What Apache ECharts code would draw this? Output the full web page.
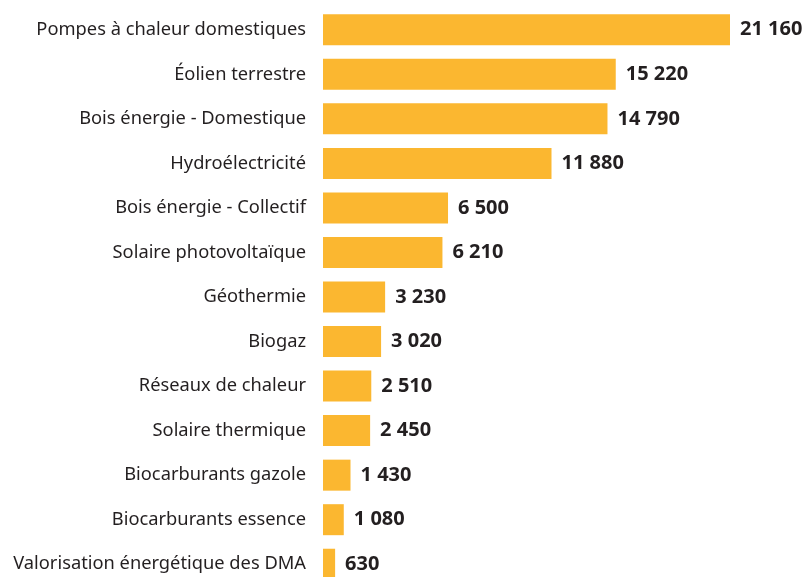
<!DOCTYPE html>
<html>
<head>
<meta charset="utf-8">
<script src="https://cdn.jsdelivr.net/npm/echarts@6/dist/echarts.min.js"></script>
<style>
  html, body { margin: 0; padding: 0; background: #fff; }
  #chart { width: 805px; height: 577px; }
</style>
</head>
<body>
<div id="chart"></div>
<script>
// catégories et valeurs (de haut en bas)
var categories = [
    'Pompes à chaleur domestiques',
    'Éolien terrestre',
    'Bois énergie - Domestique',
    'Hydroélectricité',
    'Bois énergie - Collectif',
    'Solaire photovoltaïque',
    'Géothermie',
    'Biogaz',
    'Réseaux de chaleur',
    'Solaire thermique',
    'Biocarburants gazole',
    'Biocarburants essence',
    'Valorisation énergétique des DMA'
];
var values = [21160, 15220, 14790, 11880, 6500, 6210, 3230, 3020, 2510, 2450, 1430, 1080, 630];

function fmt(v) {
    return String(v).replace(/\B(?=(\d{3})+(?!\d))/g, ' ');
}

var option = {
    backgroundColor: '#fff',
    animation: false,
    grid: { left: 323, width: 407, top: 7.5, height: 579, outerBoundsMode: 'none' },
    xAxis: {
        type: 'value',
        min: 0,
        max: 21160,
        show: false
    },
    yAxis: {
        type: 'category',
        data: categories,
        inverse: true,
        axisLine: { show: false },
        axisTick: { show: false },
        axisLabel: {
            margin: 17,
            color: '#231f20',
            fontSize: 18.3,
            fontFamily: 'Noto Sans'
        }
    },
    series: [{
        type: 'bar',
        data: values,
        barWidth: 31,
        itemStyle: { color: '#fbb730' },
        label: {
            show: true,
            position: 'right',
            distance: 10,
            color: '#231f20',
            fontSize: 20,
            fontWeight: 'bold',
            fontFamily: 'Noto Sans',
            formatter: function (p) { return fmt(p.value); }
        }
    }]
};

var myChart = echarts.init(document.getElementById('chart'));
myChart.setOption(option);
</script>
</body>
</html>
